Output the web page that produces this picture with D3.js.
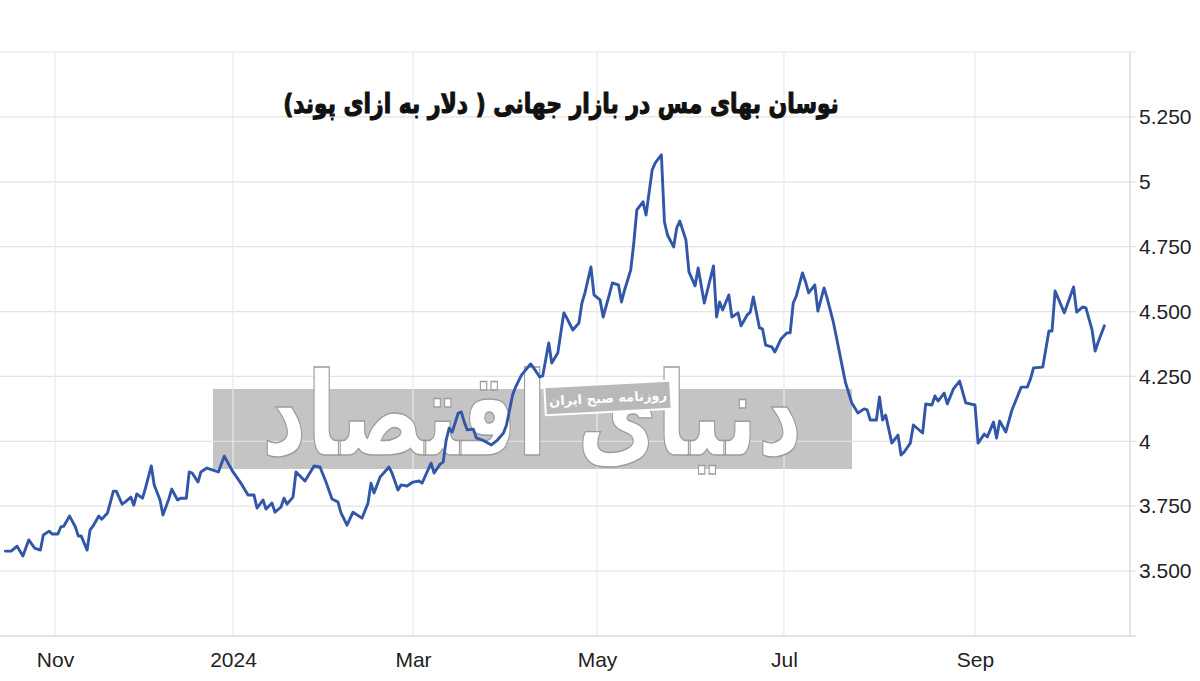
<!DOCTYPE html>
<html><head><meta charset="utf-8">
<script src="https://cdn.jsdelivr.net/npm/d3@7"></script>
<style>html,body{margin:0;padding:0;background:#fff}svg{display:block}</style>
</head><body>
<svg id="c" width="1200" height="681"></svg>
<script>
const titleText = "نوسان بهای مس در بازار جهانی ( دلار به ازای پوند)";
const watermarkText = "دنیای اقتصاد";
const watermarkSub = "روزنامه صبح ایران";
const xTickDates = ["2023-11-01","2024-01-01","2024-03-01","2024-05-01","2024-07-01","2024-09-01"];
const xTickLabels = ["Nov","2024","Mar","May","Jul","Sep"];
const yTickValues = [3.5,3.75,4,4.25,4.5,4.75,5,5.25];
const yTickLabels = ["3.500","3.750","4","4.250","4.500","4.750","5","5.250"];
const yGridValues = [3.5,3.75,4,4.25,4.5,4.75,5,5.25,5.5];
const yDomain = [3.25,5.5];

const dates = [
"2023-10-15","2023-10-17","2023-10-19","2023-10-21","2023-10-23","2023-10-25","2023-10-27","2023-10-28","2023-10-30","2023-10-31",
"2023-11-02","2023-11-03","2023-11-04","2023-11-06","2023-11-08","2023-11-09","2023-11-10","2023-11-12","2023-11-13","2023-11-14",
"2023-11-16","2023-11-17","2023-11-19","2023-11-21","2023-11-22","2023-11-24","2023-11-25","2023-11-27","2023-11-28","2023-11-29",
"2023-12-01","2023-12-02","2023-12-04","2023-12-05","2023-12-07","2023-12-08","2023-12-10","2023-12-11","2023-12-13","2023-12-14",
"2023-12-16","2023-12-17","2023-12-18","2023-12-20","2023-12-21","2023-12-23","2023-12-27","2023-12-29","2024-01-01","2024-01-02",
"2024-01-04","2024-01-06","2024-01-08","2024-01-09","2024-01-11","2024-01-12","2024-01-14","2024-01-15","2024-01-17","2024-01-18",
"2024-01-19","2024-01-21","2024-01-22","2024-01-25","2024-01-28","2024-01-30","2024-02-01","2024-02-03","2024-02-05","2024-02-06",
"2024-02-08","2024-02-10","2024-02-13","2024-02-15","2024-02-16","2024-02-17","2024-02-19","2024-02-22","2024-02-23","2024-02-25",
"2024-02-26","2024-02-28","2024-03-01","2024-03-03","2024-03-04","2024-03-07","2024-03-08","2024-03-10","2024-03-11","2024-03-12",
"2024-03-13","2024-03-14","2024-03-16","2024-03-17","2024-03-18","2024-03-19","2024-03-21","2024-03-22","2024-03-24","2024-03-27",
"2024-03-29","2024-03-31","2024-04-01","2024-04-03","2024-04-04","2024-04-06","2024-04-09","2024-04-10","2024-04-12","2024-04-13",
"2024-04-15","2024-04-16","2024-04-18","2024-04-20","2024-04-21","2024-04-23","2024-04-25","2024-04-26","2024-04-27","2024-04-29",
"2024-04-30","2024-05-02","2024-05-03","2024-05-05","2024-05-06","2024-05-08","2024-05-09","2024-05-10","2024-05-12","2024-05-13",
"2024-05-14","2024-05-16","2024-05-17","2024-05-19","2024-05-20","2024-05-22","2024-05-23","2024-05-24","2024-05-26","2024-05-27",
"2024-05-28","2024-05-30","2024-05-31","2024-06-02","2024-06-03","2024-06-05","2024-06-08","2024-06-09","2024-06-10","2024-06-11",
"2024-06-13","2024-06-14","2024-06-16","2024-06-17","2024-06-19","2024-06-20","2024-06-21","2024-06-23","2024-06-24","2024-06-25",
"2024-06-27","2024-06-28","2024-06-30","2024-07-02","2024-07-03","2024-07-04","2024-07-05","2024-07-07","2024-07-08","2024-07-09",
"2024-07-11","2024-07-12","2024-07-14","2024-07-15","2024-07-17","2024-07-18","2024-07-20","2024-07-21","2024-07-23","2024-07-25",
"2024-07-27","2024-07-28","2024-07-29","2024-07-31","2024-08-01","2024-08-02","2024-08-03","2024-08-05","2024-08-07","2024-08-08",
"2024-08-09","2024-08-11","2024-08-12","2024-08-15","2024-08-16","2024-08-18","2024-08-19","2024-08-20","2024-08-22","2024-08-23",
"2024-08-25","2024-08-27","2024-08-29","2024-09-01","2024-09-02","2024-09-04","2024-09-05","2024-09-07","2024-09-08","2024-09-09",
"2024-09-11","2024-09-13","2024-09-16","2024-09-18","2024-09-19","2024-09-20","2024-09-23","2024-09-25","2024-09-26","2024-09-27",
"2024-09-30","2024-10-03","2024-10-04","2024-10-06","2024-10-07","2024-10-09","2024-10-10","2024-10-11","2024-10-13"
];
const values = [
3.577,3.577,3.596,3.558,3.620,3.589,3.581,3.639,3.654,3.643,
3.643,3.670,3.673,3.712,3.670,3.635,3.635,3.581,3.658,3.673,
3.712,3.700,3.724,3.808,3.808,3.758,3.766,3.785,3.754,3.797,
3.781,3.820,3.905,3.832,3.774,3.716,3.778,3.816,3.774,3.781,
3.781,3.882,3.878,3.843,3.882,3.897,3.882,3.943,3.882,3.866,
3.832,3.793,3.793,3.743,3.774,3.739,3.762,3.727,3.747,3.781,
3.758,3.785,3.882,3.847,3.905,3.901,3.843,3.778,3.766,3.724,
3.677,3.727,3.704,3.762,3.839,3.801,3.862,3.901,3.878,3.812,
3.832,3.828,3.843,3.847,3.839,3.916,3.878,3.912,3.920,4.005,
4.051,4.036,4.109,4.113,4.074,4.044,4.047,4.013,4.005,3.986,
4.005,4.032,4.063,4.178,4.209,4.256,4.298,4.283,4.248,4.252,
4.379,4.302,4.340,4.495,4.475,4.429,4.456,4.533,4.572,4.672,
4.564,4.545,4.479,4.564,4.610,4.603,4.537,4.583,4.660,4.764,
4.892,4.923,4.872,5.046,5.073,5.104,4.845,4.795,4.749,4.822,
4.849,4.776,4.653,4.599,4.668,4.533,4.676,4.479,4.537,4.506,
4.564,4.479,4.495,4.445,4.487,4.498,4.556,4.437,4.433,4.371,
4.364,4.344,4.394,4.418,4.418,4.533,4.560,4.649,4.614,4.572,
4.603,4.502,4.591,4.552,4.460,4.402,4.283,4.225,4.148,4.109,
4.125,4.121,4.082,4.082,4.171,4.082,4.101,3.993,4.024,3.947,
3.959,3.993,4.063,4.032,4.144,4.140,4.175,4.155,4.186,4.144,
4.202,4.232,4.148,4.140,3.993,4.028,4.017,4.074,4.013,4.078,
4.036,4.121,4.209,4.209,4.240,4.283,4.286,4.425,4.425,4.579,
4.495,4.595,4.498,4.518,4.514,4.429,4.348,4.383,4.445
];

const svg = d3.select("#c");
const P = {left:0, right:1130, top:52, bottom:636};
const parse = d3.utcParse("%Y-%m-%d");
const data = dates.map((d,i)=>({date:parse(d), value:values[i]}));

// month tick positions of the layout (piecewise time scale)
const x = d3.scaleUtc().domain(xTickDates.map(parse)).range([55,233,413,597,784,975]);
const y = d3.scaleLinear().domain(yDomain).range([P.bottom, P.top]);

// watermark background
svg.append("rect").attr("x",213).attr("y",389).attr("width",639).attr("height",80).attr("fill","#c4c4c4");

// gridlines
const g = svg.append("g");
g.selectAll("line.h").data(yGridValues).join("line")
  .attr("x1",P.left).attr("x2",P.right+6)
  .attr("y1",d=>y(d)).attr("y2",d=>y(d))
  .attr("stroke","#e2e2e2").attr("stroke-width",1.2).attr("opacity",0.9);
g.selectAll("line.v").data(xTickDates.map(parse)).join("line")
  .attr("x1",d=>x(d)).attr("x2",d=>x(d))
  .attr("y1",P.top).attr("y2",P.bottom)
  .attr("stroke","#e6ecf0").attr("stroke-width",1.2);
g.append("line").attr("x1",P.right).attr("x2",P.right).attr("y1",P.top).attr("y2",P.bottom)
  .attr("stroke","#d4d4d4").attr("stroke-width",1.2);
g.append("line").attr("x1",P.left).attr("x2",P.right+6).attr("y1",P.bottom).attr("y2",P.bottom)
  .attr("stroke","#d8d8d8").attr("stroke-width",1.5);

// watermark calligraphy (approximation)
const wm = svg.append("text").text(watermarkText)
  .attr("font-family","DejaVu Sans").attr("font-weight","bold").attr("font-size",100)
  .attr("direction","rtl").attr("fill","#ffffff").attr("stroke","#9c9c9c")
  .attr("stroke-width",1.3).attr("vector-effect","non-scaling-stroke");
{
  const bb = wm.node().getBBox();
  const tx=262, ty=348, tw=540, th=135;
  const sx = tw/bb.width, sy = th/bb.height;
  wm.attr("transform",`translate(${tx - bb.x*sx},${ty - bb.y*sy}) scale(${sx},${sy})`);
}
const sub = svg.append("g").attr("transform","translate(608,398) rotate(-3)");
sub.append("rect").attr("x",-63).attr("y",-14).attr("width",126).attr("height",28)
  .attr("fill","#b9b9b9").attr("stroke","#ffffff").attr("stroke-width",2);
sub.append("text").text(watermarkSub).attr("text-anchor","middle").attr("dy","0.35em")
  .attr("direction","rtl").attr("font-family","DejaVu Sans").attr("font-weight","bold")
  .attr("font-size",13).attr("fill","#ffffff");

// line
const line = d3.line().x(d=>x(d.date)).y(d=>y(d.value));
svg.append("path").datum(data).attr("d",line).attr("fill","none")
  .attr("stroke","#3257a8").attr("stroke-width",2.9)
  .attr("stroke-linejoin","round").attr("stroke-linecap","round");

// y axis labels
const yAxis = d3.axisRight(y).tickValues(yTickValues).tickSize(0).tickPadding(9)
  .tickFormat((d,i)=>yTickLabels[i]);
const ya = svg.append("g").attr("transform",`translate(${P.right},0)`).call(yAxis);
ya.select(".domain").remove();
ya.selectAll("text").attr("font-family","Liberation Sans, Arial, sans-serif").attr("font-size",21).attr("fill","#222");

// x axis labels
const xAxis = d3.axisBottom(x).tickValues(xTickDates.map(parse)).tickSize(0).tickPadding(16)
  .tickFormat((d,i)=>xTickLabels[i]);
const xa = svg.append("g").attr("transform",`translate(0,${P.bottom})`).call(xAxis);
xa.select(".domain").remove();
xa.selectAll("text").attr("font-family","Liberation Sans, Arial, sans-serif").attr("font-size",21).attr("fill","#222");

// title
const t = svg.append("text").text(titleText)
  .attr("x",0).attr("y",0).attr("text-anchor","middle").attr("direction","rtl")
  .attr("font-family","DejaVu Sans").attr("font-weight","bold").attr("font-size",24)
  .attr("fill","#111").attr("stroke","#111").attr("stroke-width",0.9)
  .attr("transform","translate(561,113) scale(1,1.25)");
{
  const w = t.node().getComputedTextLength();
  t.attr("font-size", 24*556/w);
}
</script>
</body></html>
